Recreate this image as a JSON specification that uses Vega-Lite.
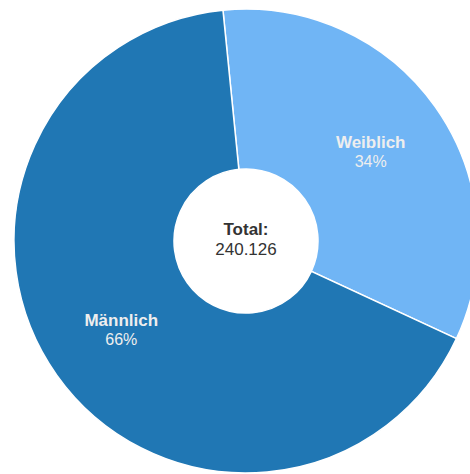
{
  "$schema": "https://vega.github.io/schema/vega-lite/v6.json",
  "autosize": {"type": "none"},
  "width": 448,
  "height": 466,
  "padding": {"left": 22, "top": 8, "right": 0, "bottom": 0},
  "background": "white",
  "config": {"view": {"stroke": null}},
  "layer": [
    {
      "data": {"values": [
        {"geschlecht": "Weiblich", "anzahl": 80443, "pct": "34%", "ord": 1},
        {"geschlecht": "Männlich", "anzahl": 159683, "pct": "66%", "ord": 2}
      ]},
      "encoding": {
        "theta": {"field": "anzahl", "type": "quantitative", "stack": true, "scale": {"range": [-0.0995, 6.1837]}},
        "order": {"field": "ord", "type": "ordinal"},
        "color": {"field": "geschlecht", "type": "nominal", "scale": {"domain": ["Weiblich", "Männlich"], "range": ["#70b5f5", "#2077b4"]}, "legend": null}
      },
      "layer": [
        {"mark": {"type": "arc", "outerRadius": 232, "innerRadius": 72, "stroke": "white", "strokeWidth": 1.5}},
        {"mark": {"type": "text", "radius": 153, "dy": -9, "font": "Liberation Sans", "fontSize": 17, "fontWeight": "bold", "fill": "#eeeeee"},
         "encoding": {"text": {"field": "geschlecht"}, "color": {"value": "#eeeeee"}}},
        {"mark": {"type": "text", "radius": 153, "dy": 10, "font": "Liberation Sans", "fontSize": 16, "fill": "#eeeeee"},
         "encoding": {"text": {"field": "pct"}, "color": {"value": "#eeeeee"}}}
      ]
    },
    {
      "data": {"values": [{"zeile1": "Total:", "zeile2": "240.126"}]},
      "layer": [
        {"mark": {"type": "text", "dy": -11, "font": "Liberation Sans", "fontSize": 17, "fontWeight": 600, "color": "#333333", "baseline": "middle"},
         "encoding": {"text": {"field": "zeile1"}}},
        {"mark": {"type": "text", "dy": 9, "font": "Liberation Sans", "fontSize": 17, "color": "#333333", "baseline": "middle"},
         "encoding": {"text": {"field": "zeile2"}}}
      ]
    }
  ]
}
